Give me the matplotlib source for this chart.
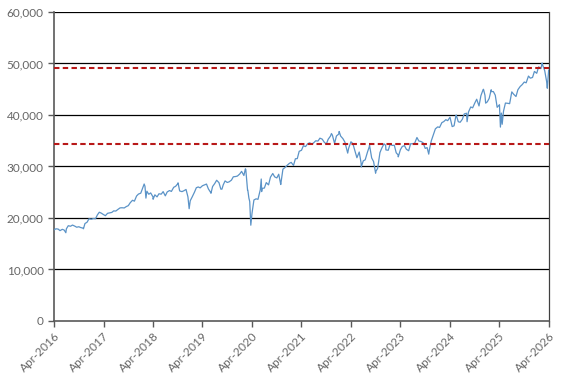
import matplotlib
matplotlib.use("Agg")
import matplotlib.pyplot as plt
import pandas as pd

# semi-monthly closes (1st and 15th of each month)
start_date = "2016-04-01"
closes = [
    # 2016 (Apr-Dec)
    17700, 17900, 17850, 17550, 17800, 17650, 17900, 18500, 18400, 18630,
    18420, 18210, 18300, 18140, 18030, 18920, 19190, 19850,
    # 2017
    19760, 19890, 19860, 20610, 21120, 20950, 20660, 20450, 20910, 20980,
    21080, 21380, 21350, 21640, 21960, 21990, 21950, 22200, 22400, 22960,
    23440, 23270, 24270, 24650,
    # 2018
    24820, 25800, 26150, 25200, 24610, 24870, 24100, 24500, 24100, 24700,
    24630, 25120, 24300, 25060, 25330, 25160, 25960, 26150, 26650, 25250,
    25120, 25290, 25540, 24100,
    # 2019
    23350, 24070, 25000, 25880, 26030, 25850, 26260, 26420, 26590, 25650,
    24950, 26110, 26700, 27330, 26860, 25600, 26400, 27200, 26900, 27020,
    27350, 28000, 28050, 28140,
    # 2020
    28540, 29050, 28250, 29420, 25400, 23200, 20940, 23500, 23720, 23625,
    25480, 25760, 25810, 26870, 26430, 27930, 28640, 27990, 27780, 28500,
    26900, 29480, 29820, 30200,
    # 2021
    30600, 30800, 30210, 31500, 31530, 32950, 33150, 34030, 33870, 34380,
    34600, 34300, 34630, 34990, 34940, 35500, 35310, 34750, 34330, 35290,
    35910, 36090, 34480, 35930,
    # 2022
    36300, 35910, 35400, 34750, 33300, 33540, 34800, 34450, 33000, 31700,
    32810, 30670, 31100, 31290, 32800, 33900, 31650, 30960, 29000, 29640,
    32700, 33590, 34400, 33220,
    # 2023
    33150, 34300, 34090, 34130, 32660, 32250, 33270, 33890, 34050, 33350,
    33060, 34410, 34410, 34510, 35630, 34950, 34840, 34620, 33510, 33670,
    33270, 34990, 36250, 37310,
    # 2024
    37690, 37590, 38520, 38720, 39090, 38900, 39570, 37990, 37900, 39910,
    38690, 38590, 39170, 40210, 40340, 40560, 41560, 41390, 42330, 43060,
    41760, 43750, 44900, 43830,
    # 2025
    42550, 43220, 44550, 44550, 43840, 41490, 42000, 40370, 40760, 42320,
    42270, 42200, 44490, 44020, 43590, 44910, 45540, 45880, 46400, 46250,
    47560, 47150, 47290, 48460,
    # 2026 (Jan-Mar)
    48100, 49350, 49000, 49600, 48600, 46500,
]

# turning points in between
extra_dates = [
    "2016-06-27", "2016-11-04", "2018-01-26", "2018-02-08", "2018-04-02",
    "2018-10-03", "2018-12-24", "2019-06-03", "2019-08-23", "2020-02-12",
    "2020-02-28", "2020-03-09", "2020-03-23", "2020-06-08", "2020-06-11",
    "2020-10-30", "2021-11-08", "2022-01-04", "2022-03-08", "2022-06-16",
    "2022-08-16", "2022-09-30", "2022-12-13", "2023-03-16", "2023-07-31",
    "2023-10-27", "2024-04-17", "2024-05-17", "2024-08-05", "2024-12-04",
    "2024-12-20", "2025-01-30", "2025-04-08", "2025-04-21", "2026-02-10",
    "2026-03-20", "2026-03-30",
]
extra_closes = [
    17140, 17900, 26600, 23860, 23640,
    26830, 21800, 24800, 25600, 29550,
    25400, 23850, 18600, 27570, 25130,
    26500, 36400, 36800, 32600, 29900,
    34150, 28700, 34100, 31870, 35560,
    32400, 37750, 40000, 38700, 45000,
    42300, 44900, 37650, 38200, 50100,
    45200, 48700,
]

level_high = 49100
level_low = 34370

year_ticks = pd.date_range("2016-04-01", "2026-04-01", freq="12MS")
year_labels = [d.strftime("Apr-%Y") for d in year_ticks]

dates = pd.date_range(start_date, periods=len(closes), freq="SMS")
s = pd.concat([
    pd.Series(closes, index=dates),
    pd.Series(extra_closes, index=pd.to_datetime(extra_dates)),
]).sort_index()

plt.rcParams["font.family"] = ["Lato", "DejaVu Sans"]

fig = plt.figure(figsize=(5.63, 3.81), dpi=100)
ax = fig.add_axes([0.096, 0.1575, 0.879, 0.811])

for v in range(10000, 60001, 10000):
    ax.axhline(v, color="black", lw=0.9, zorder=1)

ax.plot(s.index, s.values, color="#5b93c7", lw=0.9, zorder=3)

for lv in (level_high, level_low):
    ax.axhline(lv, color="#b81818", lw=1.5, ls=(0, (2.6, 1.6)), zorder=4)

ax.set_ylim(0, 60000)
ax.set_xlim(year_ticks[0], year_ticks[-1])
ax.set_yticks(range(0, 60001, 10000))
ax.set_yticklabels([f"{v:,}" for v in range(0, 60001, 10000)])
ax.set_xticks(year_ticks)
ax.set_xticklabels(year_labels, rotation=45, ha="right", rotation_mode="anchor")

ax.tick_params(axis="both", labelsize=8.5, labelcolor="#666666", color="#595959",
               length=4, width=1.0, direction="out")
ax.tick_params(axis="x", pad=3)

for side in ("left", "bottom"):
    ax.spines[side].set_color("#595959")
    ax.spines[side].set_linewidth(1.2)
ax.spines["right"].set_color("#404040")
ax.spines["right"].set_linewidth(0.9)
ax.spines["top"].set_visible(False)

fig.savefig("out.png", dpi=100)
